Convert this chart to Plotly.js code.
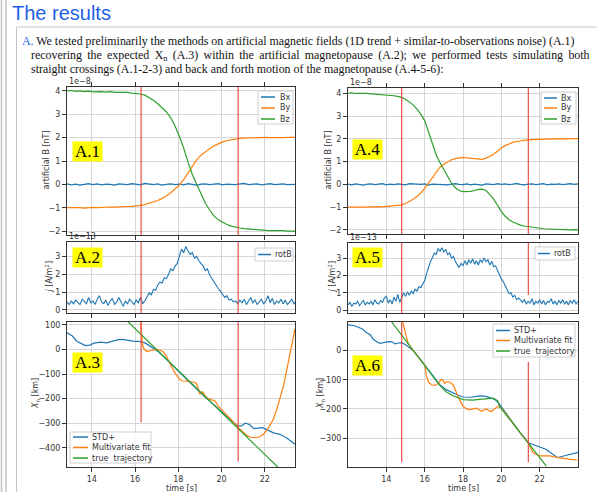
<!DOCTYPE html>
<html><head><meta charset="utf-8">
<script src="https://cdn.plot.ly/plotly-3.0.1.min.js"></script>
<style>html,body{margin:0;padding:0;background:#fff}#chart{width:597px;height:492px}</style>
</head><body><div id="chart"></div>
<script>
// ---------- data ----------
const xTicks = [14, 16, 18, 20, 22];
// left column (straight crossing), B fields sampled from t=12.85 every 0.2 s
const tL0 = 12.85, dtB = 0.2, dtJ = 0.1;
const BxL = [0.02,-0.02,0.01,-0.03,0.0,0.03,-0.01,0.02,-0.02,0.01, 0.0,-0.03,0.02,0.01,-0.01,0.03,0.0,-0.02,0.04,0.01, -0.01,0.02,-0.03,0.0,0.02,-0.01,0.01,-0.02,0.03,0.0, -0.03,0.01,0.02,-0.01,0.0,0.03,-0.02,0.01,0.0,-0.01, 0.02,0.04,-0.01,0.0,0.02,-0.02,0.01,0.03,-0.01,0.0, 0.02,-0.01,0.01,0.0];
const ByL = [-1.0,-0.99,-1.01,-1.0,-1.02,-1.0,-0.99,-1.0,-0.98,-0.99, -0.97,-0.98,-0.96,-0.97,-0.95,-0.94,-0.93,-0.9,-0.87,-0.82, -0.76,-0.69,-0.6,-0.5,-0.36,-0.2,-0.03,0.2,0.5,0.8, 1.05,1.25,1.4,1.53,1.65,1.75,1.82,1.88,1.92,1.95, 1.97,1.98,1.99,1.98,2.0,1.99,2.01,2.0,1.99,2.01, 2.0,2.01,2.0,2.01];
const BzL = [4.0,4.02,3.98,4.0,3.97,3.99,3.96,3.98,3.97,3.95, 3.97,3.94,3.95,3.93,3.94,3.91,3.9,3.87,3.82,3.72, 3.6,3.45,3.27,3.1,2.85,2.5,2.05,1.55,0.95,0.42, 0.0,-0.42,-0.8,-1.1,-1.35,-1.52,-1.63,-1.72,-1.79,-1.84, -1.87,-1.9,-1.92,-1.94,-1.95,-1.96,-1.97,-1.98,-1.97,-1.99, -1.98,-2.0,-1.99,-2.0];
const rotBL = [0.45,0.3,0.5,0.35,0.55,0.4,0.3,0.6,0.45,0.35, 0.7,0.4,0.5,0.3,0.6,0.8,0.45,0.35,0.55,0.25, 0.5,0.65,0.3,0.45,0.7,0.4,0.2,0.5,0.35,0.6, 0.45,0.3,0.55,0.4,0.7,0.35,0.5,
  0.7,0.95,0.85,1.15,1.1, 1.4,1.55,1.5,1.8,1.75, 2.0,2.3,2.2,2.45,2.6, 3.0,3.4,3.2,3.55,3.3, 3.1,3.2,2.9,3.0,2.75, 2.6,2.45,2.2,2.3,1.95, 1.75,1.6,1.4,1.2,1.05, 0.9,0.7,0.8,0.55,0.6,
  0.45,0.5,0.35,0.55,0.4, 0.6,0.3,0.5,0.7,0.4, 0.55,0.3,0.45,0.6,0.35, 0.5,0.8,0.4,0.65,0.3, 0.5,0.4,0.6,0.35,0.55, 0.3,0.45,0.6,0.35,0.5];
const tStdL = [12.85,13.1,13.3,13.5,13.7,13.9,14.1,14.4,14.7,15.0, 15.3,15.5,15.7,15.9,16.1,16.3,16.5,16.7,16.9,17.1, 17.4,17.7,18.0,18.3,18.6,18.9,19.2,19.5,19.8,20.1, 20.4,20.7,20.9,21.1,21.3,21.5,21.7,21.9,22.1,22.4, 22.7,23.0,23.2,23.4];
const stdL = [68,55,34,25,16,18,26,30,27,35, 41,40,36,34,33,32,25,14,2,-10, -36,-62,-88,-114,-140,-165,-190,-213,-236,-260, -285,-308,-312,-300,-305,-322,-320,-318,-326,-339, -345,-359,-372,-386];
const tFitL = [16.25,16.3,16.35,16.42,16.54,16.7,16.85,17.0,17.15,17.31, 17.45,17.62,17.78,17.93,18.05,18.16,18.4,18.62,18.75,18.85, 18.95,19.0,19.1,19.16,19.25,19.39,19.55,19.7,19.85,20.05, 20.24,20.5,20.78,21.0,21.17,21.35,21.55,21.75,21.94,22.15, 22.4,22.6,22.87,23.05,23.17,23.3,23.4];
const fitL = [120,60,15,2,-8,-5,-3,0,-2,-10, -28,-59,-85,-106,-120,-127,-130,-131,-133,-140, -165,-182,-172,-175,-190,-200,-205,-209,-230,-248, -263,-290,-318,-338,-350,-357,-359,-356,-345,-322, -284,-230,-147,-70,-11,40,85];
const tTrueL = [15.6, 22.6];
const trueL = [119, -478];
// right column (back and forth motion), sampled from t=12.0
const tR0 = 12.0;
const BxR = [0.01,-0.02,0.02,0.0,-0.03,0.01,0.02,-0.01,0.0,0.03, -0.02,0.01,-0.01,0.02,0.0,-0.02,0.03,0.01,-0.01,0.0, 0.02,-0.03,0.01,0.0,0.02,-0.01,-0.02,0.01,0.03,0.0, -0.01,0.02,-0.02,0.01,0.0,-0.03,0.02,0.01,-0.01,0.03, 0.0,0.02,-0.01,0.01,0.04,0.0,-0.02,0.01,0.02,-0.01, 0.0,0.03,-0.02,0.01,0.0,0.02,-0.01,0.01,0.03,0.0,0.02];
const ByR = [-1.0,-0.99,-1.01,-1.0,-1.0,-0.99,-1.0,-0.99,-0.98,-0.99, -0.97,-0.96,-0.95,-0.93,-0.9,-0.84,-0.76,-0.65,-0.53,-0.38, -0.18,0.05,0.3,0.55,0.75,0.88,1.0,1.08,1.13,1.17, 1.18,1.16,1.14,1.12,1.1,1.1,1.15,1.23,1.32,1.45, 1.6,1.7,1.78,1.84,1.88,1.91,1.93,1.95,1.96,1.97, 1.98,1.99,1.98,2.0,1.99,2.0,2.01,2.0,2.01,2.0,2.01];
const BzR = [4.0,4.02,3.99,4.0,3.98,3.99,3.97,3.96,3.95,3.94, 3.93,3.91,3.89,3.86,3.82,3.74,3.62,3.49,3.3,3.08, 2.8,2.3,1.75,1.3,0.95,0.65,0.35,0.05,-0.15,-0.27, -0.32,-0.33,-0.31,-0.27,-0.22,-0.21,-0.27,-0.45,-0.65,-0.92, -1.2,-1.4,-1.55,-1.65,-1.73,-1.79,-1.83,-1.86,-1.89,-1.91, -1.93,-1.95,-1.96,-1.97,-1.96,-1.98,-1.99,-1.98,-2.0,-1.99,-2.0];
const rotBR = [0.3,0.45,0.2,0.4,0.35,0.5,0.25,0.4,0.55,0.3, 0.45,0.35,0.5,0.3,0.6,0.4,0.35,0.55,0.45,0.7, 0.8,0.4,0.6,0.35,0.75,0.5,0.9,0.45,0.7,1.0, 0.8,1.05,0.85,1.1,0.95,1.2,1.1,1.35,1.3,1.55, 1.7,2.1,2.5,2.8,3.0,3.3,3.2,3.55,3.4,3.6, 3.35,3.5,3.2,3.3,3.0,3.1,2.8,2.6,2.45,2.7, 2.55,2.85,2.6,2.9,2.7,2.95,2.65,2.85,2.6,2.9, 2.75,3.0,2.8,2.9,2.6,2.8,2.5,2.55,2.3,2.0, 1.8,1.65,1.4,1.2,0.95,1.0,0.75,0.85,0.6,0.7, 0.55,0.45,0.6,0.35,0.5,0.4,0.65,0.3,0.5,0.4, 0.6,0.35,0.55,0.3,0.5,0.45,0.65,0.35,0.5,0.3, 0.55,0.4,0.6,0.35,0.5,0.3,0.55,0.4,0.6,0.35, 0.5];
const tStdR = [12.0,12.3,12.54,12.75,12.97,13.15,13.32,13.5,13.67,13.9, 14.1,14.3,14.45,14.65,14.8,15.0,15.14,15.4,15.7,16.0, 16.4,16.79,17.1,17.48,17.75,18.0,18.4,18.88,19.2,19.57, 19.75,19.92,20.2,20.61,21.0,21.41,21.65,21.91,22.15,22.35, 22.6,22.95,23.2,23.39,23.6,23.91,24.0];
const stdR = [88,86,80,74,61,55,39,30,25,28, 31,30,23,26,27,20,14,0,-24,-49, -85,-117,-133,-146,-153,-159,-160,-155,-157,-165, -172,-185,-212,-248,-283,-316,-322,-328,-332,-339, -352,-367,-362,-359,-355,-350,-349];
const tFitR = [14.85,14.97,15.06,15.14,15.25,15.4,15.7,16.0,16.05,16.1, 16.2,16.36,16.5,16.62,16.75,16.88,16.96,17.05,17.13,17.22, 17.35,17.48,17.6,17.74,17.87,18.0,18.18,18.35,18.5,18.7, 18.83,18.96,19.1,19.22,19.35,19.48,19.6,19.83,19.92,20.0, 20.3,20.61,21.0,21.41,21.65,22.0,22.25,22.52,22.75,22.95, 23.3,23.6,23.96];
const fitR = [98,70,45,25,12,0,-24,-49,-70,-89, -108,-117,-119,-117,-108,-98,-103,-112,-108,-106, -110,-117,-135,-157,-175,-191,-200,-202,-200,-197, -203,-208,-203,-200,-206,-209,-202,-191,-193,-197, -222,-250,-283,-316,-350,-361,-360,-361,-364,-367, -370,-373,-375];
const tTrueR = [14.28,15.4,16.0,16.4,16.79,17.1,17.48,18.0,18.5,18.88,19.2,19.57,19.8,19.92,21.0,22.35];
const trueR = [98,0,-52,-88,-119,-140,-155,-168,-170,-167,-165,-163,-172,-192,-283,-396];
// crossing markers (vertical red lines)
const crossL = [16.28, 20.77];
const crossR = [14.8, 21.41];
const crossA3Low = [-296, -456];
const crossA6Low = [-383, -383];
const crossA6High = [98, -39];
const crossA5High = [3.87, 0.87];
// labels
const bNames = ['Bx', 'By', 'Bz'];
const jName = 'rotB';
const xnNames = ['STD+', 'Multivariate fit', 'true\u00a0\u00a0trajectory'];
const panelLabels = ['A.1', 'A.2', 'A.3', 'A.4', 'A.5', 'A.6'];

// ---------- styling ----------
const W = 597, H = 492;
const px = x => x / W, py = y => 1 - y / H;
const C = {blue: '#1f77b4', orange: '#ff7f0e', green: '#2ca02c', red: 'rgba(228,66,52,0.85)'};
const tickFont = {family: 'DejaVu Sans', size: 8, color: '#333'};

function line(x, y, color, xa, ya, w) {
  return {type: 'scatter', mode: 'lines', x: x, y: y, xaxis: xa, yaxis: ya,
    line: {color: color, width: w || 1.2}, showlegend: false, hoverinfo: 'skip'};
}
function series(vals, t0, dt, color, xa, ya, w) {
  return {type: 'scatter', mode: 'lines', y: vals, x0: t0, dx: dt, xaxis: xa, yaxis: ya,
    line: {color: color, width: w || 1.2}, showlegend: false, hoverinfo: 'skip'};
}

const data = [
  series(BxL, tL0, dtB, C.blue, 'x', 'y'), series(ByL, tL0, dtB, C.orange, 'x', 'y'), series(BzL, tL0, dtB, C.green, 'x', 'y'),
  series(rotBL, tL0, dtJ, C.blue, 'x2', 'y2', 1.1),
  line(tStdL, stdL, C.blue, 'x3', 'y3'), line(tFitL, fitL, C.orange, 'x3', 'y3'), line(tTrueL, trueL, C.green, 'x3', 'y3'),
  series(BxR, tR0, dtB, C.blue, 'x4', 'y4'), series(ByR, tR0, dtB, C.orange, 'x4', 'y4'), series(BzR, tR0, dtB, C.green, 'x4', 'y4'),
  series(rotBR, tR0, dtJ, C.blue, 'x5', 'y5', 1.1),
  line(tStdR, stdR, C.blue, 'x6', 'y6'), line(tFitR, fitR, C.orange, 'x6', 'y6'), line(tTrueR, trueR, C.green, 'x6', 'y6')
];

function xax(dom, range, anchor, labels, mirror) {
  return {domain: dom, range: range, anchor: anchor, tickvals: xTicks, showticklabels: labels,
    ticks: 'outside', ticklen: 4, tickwidth: 1, tickcolor: '#333', showline: true, linecolor: '#333',
    linewidth: 1, mirror: mirror ? 'allticks' : true, showgrid: true, gridcolor: '#d6d6d6', gridwidth: 1,
    zeroline: false, tickfont: tickFont, fixedrange: true};
}
function yax(dom, range, anchor, dtick) {
  return {domain: dom, range: range, anchor: anchor, dtick: dtick, tick0: 0,
    ticks: 'outside', ticklen: 4, tickwidth: 1, tickcolor: '#333', showline: true, linecolor: '#333',
    linewidth: 1, mirror: true, showgrid: true, gridcolor: '#d6d6d6', gridwidth: 1,
    zeroline: false, tickfont: tickFont, fixedrange: true};
}
const dx = (a, b) => [px(a), px(b)];
const dy = (top, bot) => [py(bot), py(top)];
const LX = dx(67, 295), RX = dx(348, 578);

const shapes = [];
const annotations = [];

// page frame
shapes.push({type: 'line', xref: 'paper', yref: 'paper', x0: px(1.5), x1: px(1.5), y0: 0, y1: 1, line: {color: '#c4c4c4', width: 1.5}});
shapes.push({type: 'line', xref: 'paper', yref: 'paper', x0: px(6), x1: px(6), y0: 0, y1: 1, line: {color: '#c4c4c4', width: 1.5}});
shapes.push({type: 'line', xref: 'paper', yref: 'paper', x0: px(16.5), x1: px(16.5), y0: 0, y1: py(27), line: {color: '#c4c4c4', width: 1}});
shapes.push({type: 'line', xref: 'paper', yref: 'paper', x0: px(16.5), x1: 1, y0: py(27), y1: py(27), line: {color: '#c4c4c4', width: 1}});

// crossing lines
const vfull = (t, xa, ya) => ({type: 'line', xref: xa, yref: ya + ' domain', x0: t, x1: t, y0: 0, y1: 1, line: {color: C.red, width: 1.3}});
const vpart = (t, xa, ya, lo, hi) => ({type: 'line', xref: xa, yref: ya, x0: t, x1: t, y0: lo, y1: hi, line: {color: C.red, width: 1.3}});
crossL.forEach(t => { shapes.push(vfull(t, 'x', 'y')); shapes.push(vfull(t, 'x2', 'y2')); });
crossL.forEach((t, i) => shapes.push(vpart(t, 'x3', 'y3', crossA3Low[i], 112)));
crossR.forEach(t => shapes.push(vfull(t, 'x4', 'y4')));
crossR.forEach((t, i) => shapes.push(vpart(t, 'x5', 'y5', i === 0 ? -0.17 : crossA5High[1], crossA5High[0])));
crossR.forEach((t, i) => shapes.push(vpart(t, 'x6', 'y6', crossA6Low[i], crossA6High[i])));

// manual legends
function legend(box, entries) {
  shapes.push({type: 'rect', xref: 'paper', yref: 'paper', x0: px(box[0]), x1: px(box[2]), y0: py(box[3]), y1: py(box[1]),
    fillcolor: 'rgba(255,255,255,0.85)', line: {color: '#cfcfcf', width: 1}});
  entries.forEach(e => {
    shapes.push({type: 'line', xref: 'paper', yref: 'paper', x0: px(e.l0), x1: px(e.l1), y0: py(e.y), y1: py(e.y), line: {color: e.c, width: 1.5}});
    annotations.push({xref: 'paper', yref: 'paper', x: px(e.tx), y: py(e.y), text: e.n, showarrow: false,
      xanchor: 'left', yanchor: 'middle', borderpad: 0, font: {family: 'DejaVu Sans', size: 8, color: '#333'}});
  });
}
const bCols = [C.blue, C.orange, C.green];
legend([258, 91, 293, 124], bNames.map((n, i) => ({n: n, c: bCols[i], y: [97, 108, 119][i], l0: 261, l1: 275, tx: 279})));
legend([541, 92, 576, 124], bNames.map((n, i) => ({n: n, c: bCols[i], y: [98, 108, 119][i], l0: 544, l1: 557, tx: 560})));
legend([255, 248, 293, 261], [{n: jName, c: C.blue, y: 254.5, l0: 258, l1: 271, tx: 274}]);
legend([535, 247, 575, 260], [{n: jName, c: C.blue, y: 253.5, l0: 538, l1: 550, tx: 553}]);
legend([70, 432, 151, 463], xnNames.map((n, i) => ({n: n, c: bCols[i], y: [437, 447.5, 458][i], l0: 73, l1: 88, tx: 91})));
legend([493, 324, 575, 357], xnNames.map((n, i) => ({n: n, c: bCols[i], y: [330.5, 340.5, 351][i], l0: 496, l1: 510, tx: 513})));

// panel labels
const labPos = [[72, 141], [72, 247], [72, 352], [352, 139.5], [352, 247], [352, 355]];
panelLabels.forEach((s, i) => annotations.push({xref: 'paper', yref: 'paper', x: px(labPos[i][0]), y: py(labPos[i][1]),
  xanchor: 'left', yanchor: 'top', text: s, showarrow: false, bgcolor: '#ffff00', width: 29, height: 19, borderpad: 0,
  font: {family: 'Liberation Serif', size: 17, color: '#000'}}));

// exponent labels
[[68, 87, '1e\u22128'], [349, 88, '1e\u22128'], [68, 242, '1e\u221213'], [349, 243, '1e\u221213']].forEach(a =>
  annotations.push({xref: 'paper', yref: 'paper', x: px(a[0]), y: py(a[1]), xanchor: 'left', yanchor: 'bottom', text: a[2],
    showarrow: false, borderpad: 0, font: tickFont}));

// axis titles
const ytitle = (x, y, t) => annotations.push({xref: 'paper', yref: 'paper', x: px(x), y: py(y), text: t, textangle: -90,
  showarrow: false, xanchor: 'center', yanchor: 'middle', font: tickFont});
ytitle(45.5, 160, 'artificial B [nT]');
ytitle(48.5, 277, '<i>j</i> [A/m<sup>2</sup>]');
ytitle(36, 394, '<i>X</i><sub>n</sub> [km]');
ytitle(327.5, 160, 'artificial B [nT]');
ytitle(331.5, 277, '<i>j</i> [A/m<sup>2</sup>]');
ytitle(321, 394, '<i>X</i><sub>n</sub> [km]');
[181, 463].forEach(x => annotations.push({xref: 'paper', yref: 'paper', x: px(x), y: py(488), text: 'time [s]',
  showarrow: false, xanchor: 'center', yanchor: 'middle', borderpad: 0, font: tickFont}));

// slide title and text
annotations.push({xref: 'paper', yref: 'paper', x: px(10), y: py(13), xanchor: 'left', yanchor: 'middle', showarrow: false,
  text: 'The results', font: {family: 'Liberation Sans', size: 20, color: '#1f5fe6'}});
const serif = {family: 'Liberation Serif', size: 11.9, color: '#111'};
const para = [
  [21, 41, '<span style="color:#2b63e8">A.</span> We tested preliminarily the methods on artificial magnetic fields (1D trend + similar-to-observations noise) (A.1)'],
  [30, 55, 'recovering\u2009 the\u2009 expected\u2009 X<sub>n</sub>\u2009 (A.3)\u2009 within\u2009 the\u2009 artificial\u2009 magnetopause\u2009 (A.2);\u2009 we\u2009 performed\u2009 tests\u2009 simulating\u2009 both'],
  [30, 69, 'straight crossings (A.1-2-3) and back and forth motion of the magnetopause (A.4-5-6):']
];
para.forEach(p => annotations.push({xref: 'paper', yref: 'paper', x: px(p[0]), y: py(p[1]), xanchor: 'left', yanchor: 'middle',
  showarrow: false, borderpad: 0, text: p[2], font: serif}));

const layout = {
  width: W, height: H, margin: {l: 0, r: 0, t: 0, b: 0}, paper_bgcolor: '#fff', plot_bgcolor: '#fff', showlegend: false,
  xaxis: xax(LX, [12.85, 23.4], 'y', false, true),
  yaxis: yax(dy(87, 235), [-2.17, 4.17], 'x', 1),
  xaxis2: xax(LX, [12.85, 23.4], 'y2', false, false),
  yaxis2: yax(dy(242, 313), [-0.17, 3.8], 'x2', 1),
  xaxis3: xax(LX, [12.85, 23.4], 'y3', true, false),
  yaxis3: yax(dy(322, 467), [-478, 112], 'x3', 100),
  xaxis4: xax(RX, [12.0, 24.0], 'y4', false, true),
  yaxis4: yax(dy(88, 234), [-2.18, 4.23], 'x4', 1),
  xaxis5: xax(RX, [12.0, 24.0], 'y5', false, false),
  yaxis5: yax(dy(243, 313), [-0.17, 3.87], 'x5', 1),
  xaxis6: xax(RX, [12.0, 24.0], 'y6', true, false),
  yaxis6: yax(dy(322, 467), [-399, 98], 'x6', 100),
  shapes: shapes, annotations: annotations
};
Plotly.newPlot('chart', data, layout, {displayModeBar: false, staticPlot: true});
</script></body></html>
